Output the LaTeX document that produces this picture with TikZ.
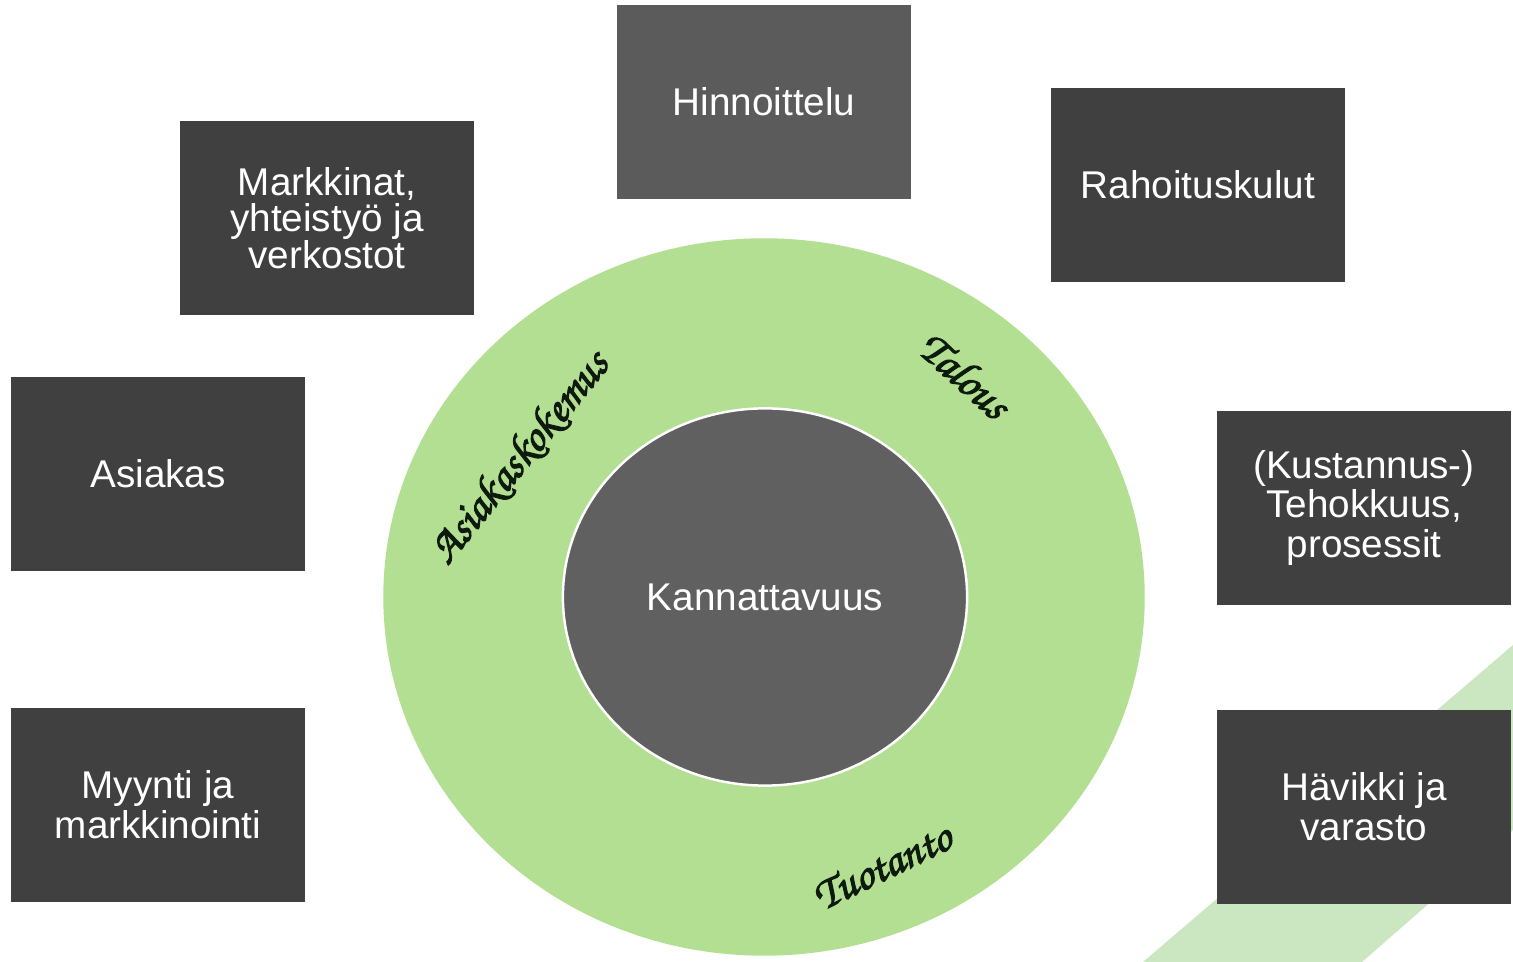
\documentclass[tikz,border=0pt]{standalone}
\usepackage{fontspec}
\setmainfont{Liberation Sans}
\newfontfamily\ringfont{texgyrechorus-mediumitalic.otf}[FakeBold=2.5]
\usepackage{tikz}
\usetikzlibrary{shapes.geometric}
\definecolor{boxgray}{HTML}{404040}
\definecolor{pricegray}{HTML}{5B5B5B}
\definecolor{coregray}{HTML}{606060}
\definecolor{ringgreen}{HTML}{B2DF91}
\definecolor{bandgreen}{HTML}{CBE7C1}
\definecolor{inkgreen}{HTML}{0E1A0E}

\begin{document}
\begin{tikzpicture}[x=0.01cm, y=-0.01cm,
    factor/.style={rectangle, fill=boxgray, text=white, minimum width=2.94cm, minimum height=1.94cm,
        align=center, inner sep=0pt, font=\fontsize{11}{11.3}\selectfont},
    ringtext/.style={text=inkgreen, inner sep=0pt, font=\ringfont\fontsize{12.8}{12.8}\selectfont}]
    \useasboundingbox (0,0) rectangle (1513,962);

    % ========== Tausta (vihreä raita oikeassa alakulmassa) ==========
    \fill[bandgreen] (1143,962) -- (1513,645) -- (1513,830) -- (1362,962) -- cycle;

    % ========== Rengas ja keskiö ==========
    \node[ellipse, fill=ringgreen, minimum width=7.61cm, minimum height=7.17cm, inner sep=0pt] (ring) at (764,597) {};
    \node[ellipse, fill=coregray, draw=white, line width=0.7pt, minimum width=4.04cm, minimum height=3.77cm,
        inner sep=0pt, text=white, font=\fontsize{11}{11.3}\selectfont] (kannattavuus) at (765,597) {Kannattavuus};

    % Renkaan tekstit
    \node[ringtext, rotate=51] (asiakaskokemus) at (520,458) {Asiakaskokemus};
    \node[ringtext, rotate=-42] (talous) at (965,375) {Talous};
    \node[ringtext, rotate=26] (tuotanto) at (882,866) {Tuotanto};

    % ========== Tekijät ==========
    \node[factor, fill=pricegray] (hinnoittelu) at (764,102) {Hinnoittelu};
    \node[factor, font=\fontsize{11}{10.3}\selectfont] (markkinat) at (327,218) {Markkinat,\\yhteistyö ja\\verkostot};
    \node[factor] (rahoitus) at (1198,185) {Rahoituskulut};
    \node[factor] (asiakas) at (158,474) {Asiakas};
    \node[factor] (tehokkuus) at (1364,508) {(Kustannus-)\\Tehokkuus,\\prosessit};
    \node[factor] (myynti) at (158,805) {Myynti ja\\markkinointi};
    \node[factor] (havikki) at (1364,807) {Hävikki ja\\varasto};
\end{tikzpicture}
\end{document}
